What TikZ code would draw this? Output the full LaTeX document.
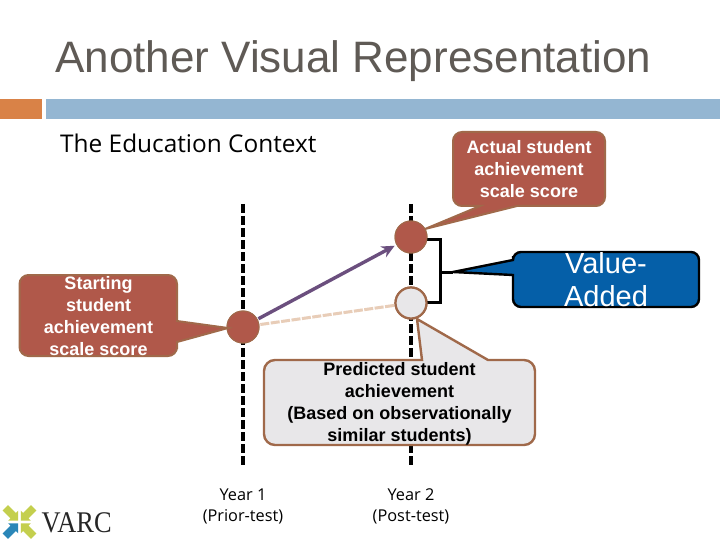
\documentclass[tikz,border=0pt]{standalone}
\usepackage{fontspec}
\setmainfont{Liberation Sans}
\newfontfamily\serifvarc{Liberation Serif}
\newfontfamily\opensans{Open Sans}
\usetikzlibrary{arrows.meta}
\definecolor{brownfill}{HTML}{B0584A}
\definecolor{brownline}{HTML}{A0694A}
\definecolor{greyfill}{HTML}{E8E7E9}
\definecolor{bluefill}{HTML}{055FA8}
\definecolor{titlecol}{HTML}{5F5A55}
\definecolor{orangebar}{HTML}{D98247}
\definecolor{bluebar}{HTML}{94B6D2}
\definecolor{purpleline}{HTML}{6B4F7E}
\definecolor{beigeline}{HTML}{E8CDB8}
\definecolor{logogreen}{HTML}{C4CF4E}
\definecolor{logoblue}{HTML}{2A86B8}
\tikzset{
  timeline/.style={line width=3.6pt,dash pattern=on 9pt off 3pt},
  callbrown/.style={fill=brownfill,draw=brownline,line width=2pt,rounded corners=9pt},
  callgrey/.style={fill=greyfill,draw=brownline,line width=2.4pt,rounded corners=11pt},
  callblue/.style={fill=bluefill,draw=black,line width=2.4pt,rounded corners=8pt},
  whitetext/.style={text=white,font=\bfseries\fontsize{18}{21.8}\selectfont,align=center,inner sep=0pt},
  blacktext/.style={text=black,font=\bfseries\fontsize{18}{22.2}\selectfont,align=center,inner sep=0pt},
  dotbrown/.style={circle,fill=brownfill,draw=brownline,line width=1pt,minimum size=32pt,inner sep=0pt},
  dotgrey/.style={circle,fill=greyfill,draw=brownline,line width=2.2pt,minimum size=31pt,inner sep=0pt},
  yearlabel/.style={text=black,font=\opensans\fontsize{16.3}{21}\selectfont,align=center,inner sep=0pt},
  bracketline/.style={line width=3pt,draw=black}
}
\newcommand{\logoarr}[2]{%
  \begin{scope}[shift={(19.5,522)},rotate=#1]
    \fill[#2] (2,0) -- (9,-7) -- (9,-3.8) -- (20,-3.8) -- (20,3.8) -- (9,3.8) -- (9,7) -- cycle;
  \end{scope}}
\begin{document}
\begin{tikzpicture}[x=1pt,y=-1pt]
\useasboundingbox (0,0) rectangle (720,540);
\fill[white] (0,0) rectangle (720,540);

% header
\node[anchor=west,inner sep=0pt,text=titlecol,font=\fontsize{44}{50}\selectfont] (title) at (55,61) {Another Visual Representation};
\fill[orangebar] (0,99) rectangle (42,119);
\fill[bluebar] (46,99) rectangle (720,119);
\node[anchor=west,inner sep=0pt,text=black,font=\opensans\fontsize{24.4}{28}\selectfont] (context) at (60,143) {The Education Context};

% time lines
\coordinate (t1top) at (243,204);
\coordinate (t1bot) at (243,466);
\coordinate (t2top) at (411,204);
\coordinate (t2bot) at (411,466);
\draw[timeline] (t1top) -- (t1bot);
\draw[timeline] (t2top) -- (t2bot);

% points (placed here so connectors can refer to them)
\node[dotbrown] (start) at (243,327) {};
\node[dotbrown] (actual) at (411,237) {};
\node[dotgrey] (pred) at (411,303) {};

% connectors
\draw[purpleline,line width=3.4pt,-{Stealth[length=13pt,width=12pt]},shorten <=1pt,shorten >=2pt] (start) -- (actual);
\draw[beigeline,line width=3pt,dash pattern=on 9pt off 1.5pt,shorten <=1pt,shorten >=0pt] (start) -- (pred);

% bracket
\coordinate (brt) at (440,239);
\coordinate (brb) at (440,302);
\coordinate (brm) at (440,272);
\coordinate (brtip) at (453,272);
\draw[bracketline,line join=miter] (actual.center |- brt) -- (brt) -- (brb) -- (pred.center |- brb);
\draw[bracketline] (brm) -- (brtip);

% redraw points above bracket
\node[dotbrown] at (start) {};
\node[dotbrown] at (actual) {};
\node[dotgrey] at (pred) {};

% callouts
\draw[callbrown] (98,275) -- (177,275) -- (177,300) [sharp corners] -- (177,321) -- (228,328) -- (177,342) -- (177,349) [rounded corners=9pt] -- (177,356) -- (19.5,356) -- (19.5,275) -- cycle;
\node[whitetext] (starttext) at (98.5,316) {Starting\\student\\achievement\\scale score};

\draw[callbrown] (529,132) -- (605,132) -- (605,206) -- (560,206) [sharp corners] -- (517,206) -- (425,229) -- (480,206) -- (470,206) [rounded corners=9pt] -- (453,206) -- (453,132) -- cycle;
\node[whitetext] (actualtext) at (529,169) {Actual student\\achievement\\scale score};

\draw[callblue] (606,252) -- (699,252) -- (699,307) -- (513,307) -- (513,290) [sharp corners] -- (513,275) -- (453,272) -- (513,260) -- (513,256) [rounded corners=8pt] -- (513,252) -- cycle;
\node[text=white,align=center,inner sep=0pt,font=\fontsize{29}{33}\selectfont] (vatext) at (606,279.5) {Value-\\Added};

\draw[callgrey] (400,360) [sharp corners] -- (422,360) -- (417,319) -- (488,360) -- (505,360) [rounded corners=11pt] -- (535,360) -- (535,445) -- (264,445) -- (264,360) -- cycle;
\node[blacktext] (predtext) at (399.5,404) {Predicted student\\achievement\\(Based on observationally\\similar students)};

% year labels
\node[yearlabel] (y1) at (243,506.5) {Year 1\\(Prior-test)};
\node[yearlabel] (y2) at (411,506.5) {Year 2\\(Post-test)};

% logo
\logoarr{-45}{logogreen}
\logoarr{45}{logogreen}
\logoarr{135}{logogreen}
\logoarr{-135}{logoblue}
\node[anchor=west,inner sep=0pt,text=black!85,font=\serifvarc\fontsize{30}{32}\selectfont,xscale=.88] (varc) at (41.5,522.5) {VARC};
\end{tikzpicture}
\end{document}
